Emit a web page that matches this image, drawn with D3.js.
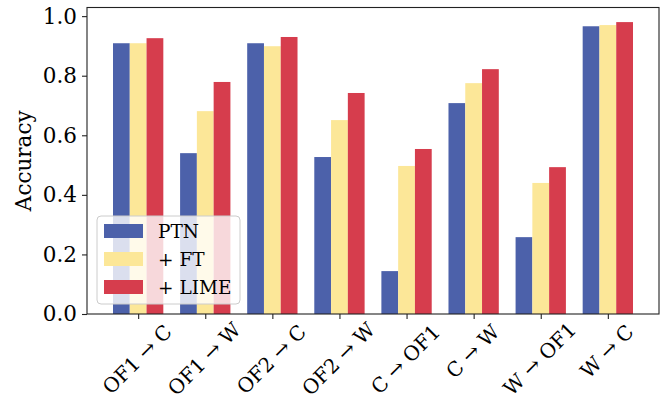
<!DOCTYPE html>
<html>
<head>
<meta charset="utf-8">
<script src="https://cdn.jsdelivr.net/npm/d3@7"></script>
<style>
  html, body { margin: 0; padding: 0; background: #fff; }
  svg { display: block; }
  text { font-family: "DejaVu Serif", serif; fill: #000; }
</style>
</head>
<body>
<svg id="chart" width="663" height="401"></svg>
<script>
const categories = ["OF1 → C", "OF1 → W", "OF2 → C", "OF2 → W", "C → OF1", "C → W", "W → OF1", "W → C"];
const seriesNames = ["PTN", "+ FT", "+ LIME"];
const ptn  = [0.909, 0.540, 0.909, 0.527, 0.144, 0.708, 0.258, 0.966];
const ft   = [0.909, 0.681, 0.899, 0.651, 0.497, 0.775, 0.440, 0.970];
const lime = [0.926, 0.779, 0.930, 0.742, 0.554, 0.822, 0.493, 0.980];
const yTicks = [0.0, 0.2, 0.4, 0.6, 0.8, 1.0];
const colors = ["#4c61aa", "#fce798", "#d63d4d"];

const series = [ptn, ft, lime];
const svg = d3.select("#chart");
const pL = 87, pR = 659, pT = 7.5, pB = 314;

const n = categories.length;
const barW = 0.25;
const x = d3.scaleLinear().domain([-0.375 - 0.3875, (n - 1) + 0.375 + 0.3875]).range([pL, pR]);
const y = d3.scaleLinear().domain([0, 1.029]).range([pB, pT]);

// bars
series.forEach((vals, s) => {
  svg.append("g").selectAll("rect").data(vals).join("rect")
    .attr("x", (d, i) => x(i + (s - 1) * barW - barW / 2))
    .attr("width", (d, i) => x(i + barW / 2) - x(i - barW / 2))
    .attr("y", d => y(d))
    .attr("height", d => y(0) - y(d))
    .attr("fill", colors[s]);
});

// y axis
const yAxis = d3.axisLeft(y).tickValues(yTicks).tickFormat(d3.format(".1f")).tickSize(5).tickPadding(5);
const gy = svg.append("g").attr("transform", `translate(${pL},0)`).call(yAxis);
gy.select(".domain").remove();
gy.selectAll("line").attr("stroke", "#222").attr("stroke-width", 1.1);
gy.selectAll("text").style("font-size", "21.5px").style("font-family", "DejaVu Serif").attr("fill", "#000");

// x axis
const xAxis = d3.axisBottom(x).tickValues(d3.range(n)).tickFormat("").tickSize(5);
const gx = svg.append("g").attr("transform", `translate(0,${pB})`).call(xAxis);
gx.select(".domain").remove();
gx.selectAll("line").attr("stroke", "#222").attr("stroke-width", 1.1);

// rotated x labels (centered bbox, top at fixed y)
const labG = svg.append("g");
categories.forEach((c, i) => {
  const t = labG.append("text")
    .attr("text-anchor", "middle")
    .attr("dominant-baseline", "central")
    .style("font-size", "20px")
    .text(c);
  const L = t.node().getComputedTextLength();
  const h = 20 * 1.17;
  const half = (L + h) / (2 * Math.SQRT2);
  const cx = x(i) - 1, cy = Math.min(pB + 6 + half, 400 - half);
  t.attr("transform", `translate(${cx},${cy}) rotate(-45)`);
});

// frame
svg.append("rect").attr("x", pL).attr("y", pT).attr("width", pR - pL).attr("height", pB - pT)
  .attr("fill", "none").attr("stroke", "#222").attr("stroke-width", 1.1);

// y label
svg.append("text")
  .attr("transform", `translate(23,${(pT + pB) / 2}) rotate(-90)`)
  .attr("text-anchor", "middle")
  .attr("dominant-baseline", "central")
  .style("font-size", "21.5px")
  .text("Accuracy");

// legend
const lg = svg.append("g");
lg.append("rect").attr("x", 97).attr("y", 216).attr("width", 143).attr("height", 88)
  .attr("rx", 4).attr("fill", "#fff").attr("fill-opacity", 0.8)
  .attr("stroke", "#ccc").attr("stroke-width", 1);
seriesNames.forEach((nm, s) => {
  const cy = 231 + s * 28;
  lg.append("rect").attr("x", 104).attr("y", cy - 7).attr("width", 39).attr("height", 14).attr("fill", colors[s]);
  lg.append("text").attr("x", 158).attr("y", cy).attr("dominant-baseline", "central")
    .style("font-size", "18.5px").text(nm);
});
</script>
</body>
</html>
